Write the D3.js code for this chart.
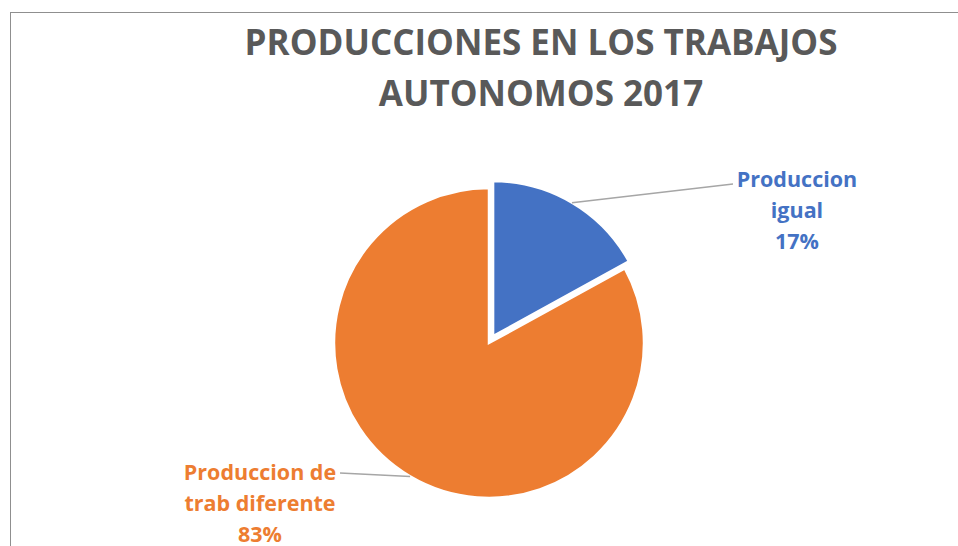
<!DOCTYPE html>
<html>
<head>
<meta charset="utf-8">
<script src="https://cdn.jsdelivr.net/npm/d3@7"></script>
<style>
  body { margin: 0; background: #fff; }
  text { font-family: "Open Sans", "Noto Sans", sans-serif; font-weight: bold; }
</style>
</head>
<body>
<div id="chart"></div>
<script>
var categories = ["Produccion igual", "Produccion de trab diferente"];
var values = [17, 83];
var labelLines = [["Produccion", "igual"], ["Produccion de", "trab diferente"]];
var titleLines = ["PRODUCCIONES EN LOS TRABAJOS", "AUTONOMOS 2017"];
var colors = ["#4472C4", "#ED7D31"];

var width = 958, height = 546;
var cx = 489, cy = 343, radius = 155, explode = 8;

var svg = d3.select("#chart")
  .append("svg")
    .attr("width", width)
    .attr("height", height);

// chart border (cut off at right and bottom like the screenshot)
svg.append("rect")
  .attr("x", 10.5).attr("y", 12.5)
  .attr("width", 960).attr("height", 560)
  .attr("fill", "#fff")
  .attr("stroke", "#8f8f8f")
  .attr("stroke-width", 1);

// title
svg.append("text")
  .attr("x", 541).attr("y", 55)
  .attr("text-anchor", "middle")
  .attr("fill", "#595959")
  .style("font-size", "35px")
  .selectAll("tspan")
  .data(titleLines)
  .enter().append("tspan")
    .attr("x", 541)
    .attr("dy", function(d, i) { return i === 0 ? 0 : 51; })
    .text(function(d) { return d; });

var pie = d3.pie().sort(null).value(function(d) { return d; });
var arcs = pie(values);

var arc = d3.arc().innerRadius(0).outerRadius(radius);

var g = svg.append("g")
  .attr("transform", "translate(" + cx + "," + cy + ")");

function offset(d, i) {
  if (i !== 0) return [0, 0];
  var a = (d.startAngle + d.endAngle) / 2;
  return [Math.sin(a) * explode, -Math.cos(a) * explode];
}

g.selectAll(".slice")
  .data(arcs)
  .enter().append("path")
    .attr("class", "slice")
    .attr("d", arc)
    .attr("transform", function(d, i) { var o = offset(d, i); return "translate(" + o[0] + "," + o[1] + ")"; })
    .attr("fill", function(d, i) { return colors[i]; })
    .attr("stroke", "#fff")
    .attr("stroke-width", 2.5);

// label positions, relative to the pie centre
var labelPos = [
  { x: 797 - cx, y: 187 - cy, lineEnd: [733 - cx, 184 - cy] },
  { x: 260 - cx, y: 480 - cy, lineEnd: [340 - cx, 473 - cy] }
];

// leader lines start at the slice's mid angle
function midPoint(d, i) {
  var a = (d.startAngle + d.endAngle) / 2, o = offset(d, i);
  return [Math.sin(a) * radius + o[0], -Math.cos(a) * radius + o[1]];
}

g.selectAll(".leader")
  .data(arcs)
  .enter().append("line")
    .attr("class", "leader")
    .attr("x1", function(d, i) { return midPoint(d, i)[0]; })
    .attr("y1", function(d, i) { return midPoint(d, i)[1]; })
    .attr("x2", function(d, i) { return labelPos[i].lineEnd[0]; })
    .attr("y2", function(d, i) { return labelPos[i].lineEnd[1]; })
    .attr("stroke", "#a6a6a6")
    .attr("stroke-width", 1.5);

// data labels
var labels = g.selectAll(".label")
  .data(arcs)
  .enter().append("text")
    .attr("class", "label")
    .attr("text-anchor", "middle")
    .attr("x", function(d, i) { return labelPos[i].x; })
    .attr("y", function(d, i) { return labelPos[i].y; })
    .attr("fill", function(d, i) { return colors[i]; })
    .style("font-size", "21.5px");

labels.selectAll("tspan")
  .data(function(d, i) {
    var total = d3.sum(values);
    return labelLines[i].concat([Math.round(d.value / total * 100) + "%"])
      .map(function(t) { return { t: t, x: labelPos[i].x }; });
  })
  .enter().append("tspan")
    .attr("x", function(d) { return d.x; })
    .attr("dy", function(d, j) { return j === 0 ? 0 : 31; })
    .text(function(d) { return d.t; });
</script>
</body>
</html>
